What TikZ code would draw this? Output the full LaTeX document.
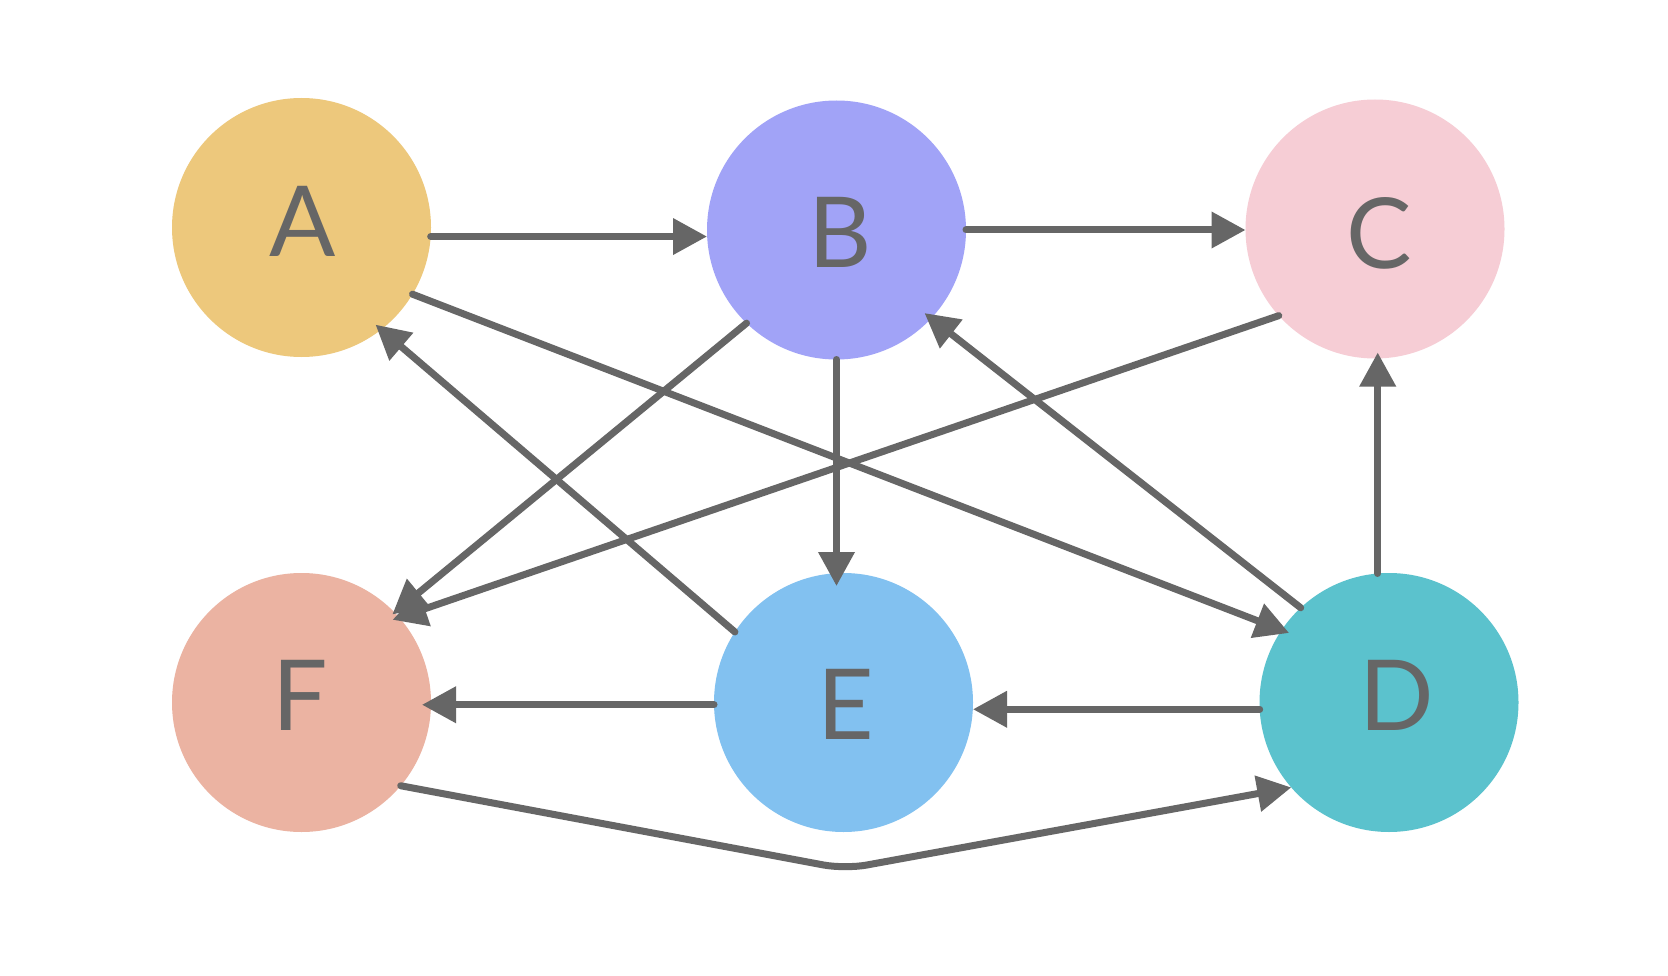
\documentclass[tikz,border=0pt]{standalone}
\usepackage{fontspec}
\setmainfont{Lato}
\usetikzlibrary{arrows.meta}
\definecolor{cA}{HTML}{EDC87C}
\definecolor{cB}{HTML}{A1A3F7}
\definecolor{cC}{HTML}{F6CDD5}
\definecolor{cD}{HTML}{5BC2CD}
\definecolor{cE}{HTML}{82C1F0}
\definecolor{cF}{HTML}{EBB3A2}
\definecolor{edge}{HTML}{666666}
\tikzset{
  vertex/.style={circle, minimum size=259pt, inner sep=0pt, outer sep=0pt, draw=none},
  letter/.style={inner sep=0pt, outer sep=0pt, text=edge, font=\fontsize{98}{100}\selectfont},
  link/.style={draw=edge, line width=7pt, line cap=round,
               -{Triangle[length=34pt,width=35pt]}},
}
\begin{document}
\begin{tikzpicture}[x=1pt,y=-1pt]
  \useasboundingbox (0,0) rectangle (1668,976);
  \fill[white] (0,0) rectangle (1668,976);

  % vertices
  \node[vertex, fill=cA] (A) at (301.5,227.5) {};
  \node[vertex, fill=cB] (B) at (836.5,230) {};
  \node[vertex, fill=cC] (C) at (1375,229) {};
  \node[vertex, fill=cF] (F) at (301.5,702.5) {};
  \node[vertex, fill=cE] (E) at (843.5,702.5) {};
  \node[vertex, fill=cD] (D) at (1389,702.5) {};

  % vertex names
  \node[letter] (tA) at (303,221) {A};
  \node[letter] (tB) at (840,232) {B};
  \node[letter] (tC) at (1379,233) {C};
  \node[letter] (tF) at (300.5,695) {F};
  \node[letter] (tE) at (845.5,704.5) {E};
  \node[letter] (tD) at (1397,695) {D};

  % bend point of the lower connector
  \coordinate (fbend) at (845,869);

  % connectors
  \draw[link] (A.-4.6) -- (A.-4.6 -| B.west);
  \draw[link] (B.-0.4) -- (B.-0.4 -| C.west);
  \draw[link, shorten >=-8pt] (A.-31.2) -- (D.146.3);
  \draw[link, shorten >=-3pt] (B.226.1) -- (F.44);
  \draw[link, shorten >=-7pt] (C.222.7) -- (F.41.3);
  \draw[link, shorten >=-13pt] (B.south) -- (B.south |- E.north);
  \draw[link, shorten >=-7.5pt] (E.147.5) -- (A.-52.3);
  \draw[link, shorten >=-8.5pt] (D.133.6) -- (B.-43.8);
  \draw[link, shorten >=-6pt] (D.95.3) -- (D.95.3 |- C.south);
  \draw[link] (D.183.9) -- (D.183.9 -| E.east);
  \draw[link, shorten >=-9pt] (E.181) -- (E.181 -| F.east);
  \draw[link, rounded corners=22pt] (F.-40.6) -- (fbend) -- (D.221.7);
\end{tikzpicture}
\end{document}
